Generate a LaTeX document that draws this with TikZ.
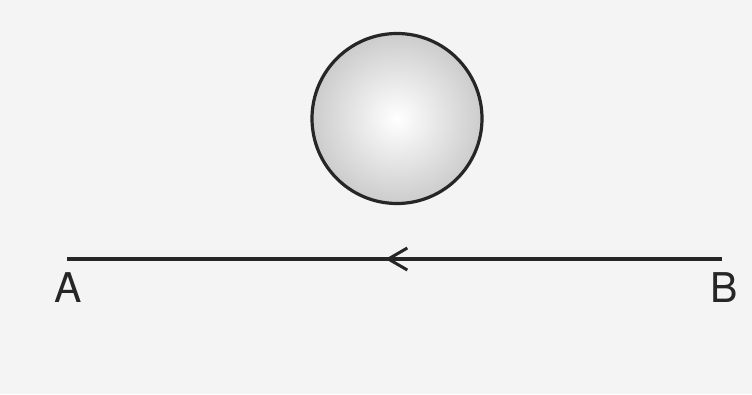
\documentclass[tikz,border=0pt]{standalone}
\usepackage{fontspec}
\setmainfont{TeX Gyre Heros}
\usetikzlibrary{arrows.meta,decorations.markings}
\definecolor{bg}{HTML}{F4F4F4}
\tikzset{
  lbl/.style={inner sep=0pt, font=\fontsize{41}{41}\selectfont, text=black!85},
  ballstyle/.style={circle, draw=black!85, line width=3.2pt, minimum size=170pt, inner sep=0pt, inner color=white, outer color=black!20},
  pathline/.style={line width=3.2pt, draw=black!85,
    postaction={decorate, decoration={markings, mark=at position 0.514 with {\arrow{Straight Barb[length=19pt,width=22pt,line width=3pt]}}}}}
}
\begin{document}
\begin{tikzpicture}[x=1pt,y=-1pt]
  \fill[bg] (0,0) rectangle (752,394);
  \useasboundingbox (0,0) rectangle (752,394);
  \node[ballstyle] (ball) at (397,118.5) {};
  \coordinate (A) at (67,259);
  \coordinate (B) at (722,259);
  \draw[pathline] (B) -- (A);
  \node[lbl] (la) at (68,288) {A};
  \node[lbl] (lb) at (724,288) {B};
\end{tikzpicture}
\end{document}
